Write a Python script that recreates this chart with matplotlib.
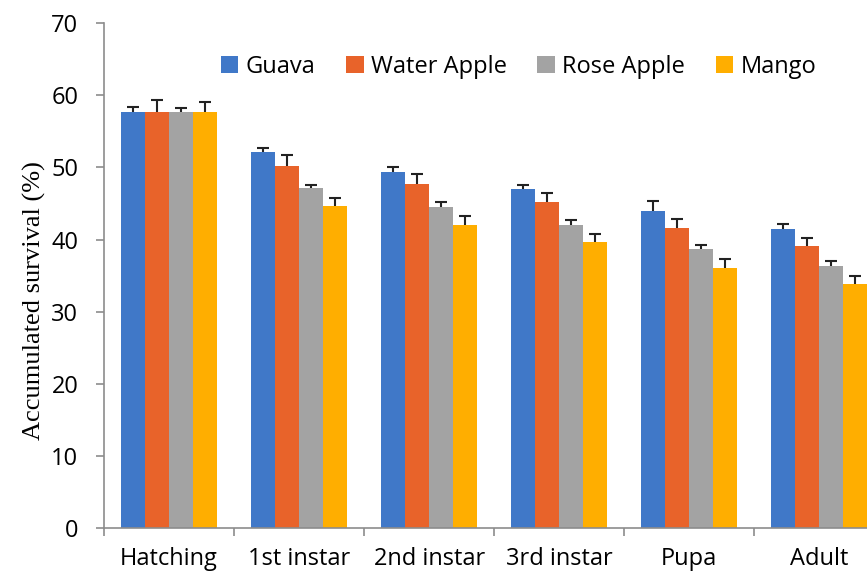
import numpy as np
import matplotlib.pyplot as plt

# ====================== DATA ======================
stages = ['Hatching', '1st instar', '2nd instar', '3rd instar', 'Pupa', 'Adult']
hosts = ['Guava', 'Water Apple', 'Rose Apple', 'Mango']

guava = [57.7, 52.1, 49.4, 47.0, 44.0, 41.4]
water_apple = [57.7, 50.2, 47.7, 45.2, 41.6, 39.1]
rose_apple = [57.7, 47.1, 44.5, 42.0, 38.7, 36.3]
mango = [57.7, 44.6, 42.0, 39.6, 36.1, 33.8]

guava_err = [0.7, 0.55, 0.6, 0.5, 1.4, 0.7]
water_apple_err = [1.6, 1.5, 1.4, 1.3, 1.3, 1.1]
rose_apple_err = [0.6, 0.5, 0.7, 0.7, 0.5, 0.7]
mango_err = [1.3, 1.2, 1.2, 1.2, 1.2, 1.1]

colors = ['#4078C8', '#E8632A', '#A3A3A3', '#FFAE00']

# ====================== PLOT ======================
fig = plt.figure(figsize=(8.67, 5.79), dpi=100)
ax = fig.add_axes([0.12, 0.088, 0.90, 0.872])

x = np.arange(len(stages))
w = 0.184
series = [guava, water_apple, rose_apple, mango]
errs = [guava_err, water_apple_err, rose_apple_err, mango_err]
for i, (vals, err) in enumerate(zip(series, errs)):
    pos = x + (i - 1.5) * w
    ax.bar(pos, vals, w, color=colors[i], label=hosts[i], zorder=2)
    eb = ax.errorbar(pos, vals, yerr=[np.zeros(len(err)), err], fmt='none',
                     ecolor='#222222', elinewidth=1.5, capsize=4.5, capthick=1.5, zorder=3)
    # keep only the upper cap (T shape)
    eb[1][0].set_visible(False)

ax.set_xlim(-0.5, 5.5)
ax.set_ylim(0, 70)
ax.set_yticks(range(0, 71, 10))
ax.set_xticks(x)
ax.set_xticklabels(stages, fontsize=17, family='Open Sans')
ax.set_xticks(np.arange(-0.5, 6, 1), minor=True)
ax.tick_params(axis='x', which='major', length=0, pad=14)
ax.tick_params(axis='x', which='minor', length=6, width=1.2, color='#8C8C8C')
ax.tick_params(axis='y', length=5.5, width=1.2, color='#8C8C8C', labelsize=17, pad=13)
for lab in ax.get_yticklabels():
    lab.set_family('Open Sans')

ax.spines['top'].set_visible(False)
ax.spines['right'].set_visible(False)
for s in ['left', 'bottom']:
    ax.spines[s].set_color('#8C8C8C')
    ax.spines[s].set_linewidth(1.2)

ax.set_ylabel('Accumulated survival (%)', fontsize=19, family='Liberation Serif')
ax.yaxis.set_label_coords(-0.074, 0.45)

ax.legend(ncol=4, frameon=False, loc='center', bbox_to_anchor=(0.531, 0.913),
          prop={'family': 'Open Sans', 'size': 17}, handlelength=0.75, handleheight=0.75,
          handletextpad=0.3, columnspacing=1.3)

plt.savefig('out.png', dpi=100)
